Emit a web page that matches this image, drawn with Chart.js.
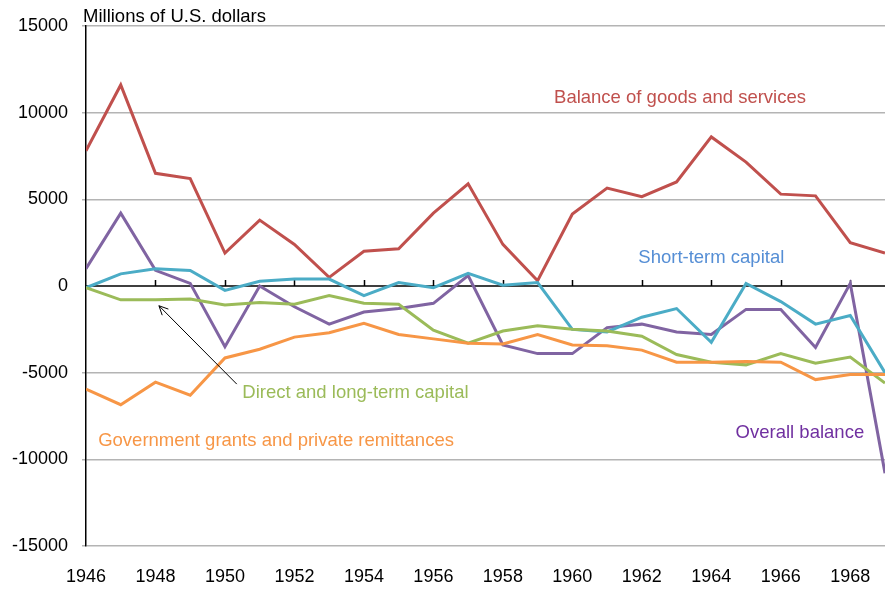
<!DOCTYPE html>
<html>
<head>
<meta charset="utf-8">
<script src="https://cdn.jsdelivr.net/npm/chart.js@4/dist/chart.umd.min.js"></script>
<style>
  html, body { margin: 0; padding: 0; background: #fff; }
  #wrap { width: 886px; height: 592px; position: relative; }
</style>
</head>
<body>
<div id="wrap"><canvas id="chart"></canvas></div>
<script>
const years = [1946, 1947, 1948, 1949, 1950, 1951, 1952, 1953, 1954, 1955, 1956, 1957,
  1958, 1959, 1960, 1961, 1962, 1963, 1964, 1965, 1966, 1967, 1968, 1969]

const goodsServices = [7800, 11600, 6500, 6200, 1900, 3800, 2400, 500, 2000, 2150, 4200, 5900,
  2400, 300, 4150, 5650, 5150, 6000, 8600, 7150, 5300, 5200, 2500, 1900]
const shortTerm = [-100, 700, 1000, 900, -250, 270, 400, 400, -550, 200, -100, 730,
  50, 200, -2500, -2650, -1800, -1300, -3250, 150, -900, -2200, -1700, -5000]
const directLongTerm = [-100, -800, -800, -750, -1100, -950, -1050, -550, -1000, -1050, -2550, -3300,
  -2600, -2300, -2500, -2600, -2900, -3950, -4400, -4550, -3900, -4450, -4100, -5600]
const govGrants = [-5950, -6850, -5550, -6300, -4150, -3650, -2950, -2700, -2150, -2800, -3050, -3300,
  -3350, -2800, -3400, -3450, -3700, -4400, -4400, -4350, -4400, -5400, -5100, -5100]
const overall = [1000, 4200, 900, 150, -3500, 0, -1200, -2200, -1500, -1300, -1000, 600,
  -3400, -3900, -3900, -2400, -2200, -2650, -2800, -1350, -1350, -3550, 150, -10800]

const yTicks = [-15000, -10000, -5000, 0, 5000, 10000, 15000]

// label text, colour, anchor in data units, alignment
const notes = [
  { text: 'Balance of goods and services', color: '#C0504D', x: 1963.1, y: 10850, align: 'center' },
  { text: 'Short-term capital', color: '#558ED5', x: 1964.0, y: 1630, align: 'center' },
  { text: 'Direct and long-term capital', color: '#9BBB59', x: 1950.5, y: -6180, align: 'left' },
  { text: 'Government grants and private remittances', color: '#F79646', x: 1946.35, y: -8930, align: 'left' },
  { text: 'Overall balance', color: '#7030A0', x: 1964.7, y: -8470, align: 'left' }
]
const arrowFrom = [1950.34, -5660]
const arrowTo = [1948.1, -1140]

const FONT = '"Liberation Sans", Arial, sans-serif'
Chart.defaults.font.family = FONT
Chart.defaults.color = '#000'

const mkLine = (label, data, color) => ({
  label,
  data,
  borderColor: color,
  backgroundColor: color,
  borderWidth: 3,
  pointRadius: 0,
  tension: 0,
  fill: false
})

const extras = {
  id: 'extras',
  beforeDatasetsDraw (chart) {
    const { ctx, scales: { x, y } } = chart
    const y0 = y.getPixelForValue(0)
    ctx.save()
    ctx.strokeStyle = '#000'
    ctx.lineWidth = 1.5
    ctx.beginPath()
    ctx.moveTo(x.left, y0)
    ctx.lineTo(x.right, y0)
    for (const t of x.ticks) {
      if (t.value === years[0]) continue
      const px = Math.round(x.getPixelForValue(t.value)) + 0.5
      ctx.moveTo(px, y0)
      ctx.lineTo(px, y0 - 6)
    }
    ctx.stroke()
    ctx.restore()
  },
  afterDatasetsDraw (chart) {
    const { ctx, scales: { x, y } } = chart
    ctx.save()
    ctx.font = '18.5px ' + FONT
    ctx.textBaseline = 'middle'
    for (const n of notes) {
      ctx.fillStyle = n.color
      ctx.textAlign = n.align
      ctx.fillText(n.text, x.getPixelForValue(n.x), y.getPixelForValue(n.y))
    }
    // arrow
    const ax = x.getPixelForValue(arrowFrom[0])
    const ay = y.getPixelForValue(arrowFrom[1])
    const bx = x.getPixelForValue(arrowTo[0])
    const by = y.getPixelForValue(arrowTo[1])
    const ang = Math.atan2(by - ay, bx - ax)
    ctx.strokeStyle = '#000'
    ctx.lineWidth = 1
    ctx.beginPath()
    ctx.moveTo(ax, ay)
    ctx.lineTo(bx, by)
    ctx.moveTo(bx - 10 * Math.cos(ang - 0.45), by - 10 * Math.sin(ang - 0.45))
    ctx.lineTo(bx, by)
    ctx.lineTo(bx - 10 * Math.cos(ang + 0.45), by - 10 * Math.sin(ang + 0.45))
    ctx.stroke()
    // unit title
    ctx.fillStyle = '#000'
    ctx.textAlign = 'left'
    ctx.textBaseline = 'alphabetic'
    ctx.fillText('Millions of U.S. dollars', x.left - 3, y.top - 4)
    ctx.restore()
  }
}

new Chart(document.getElementById('chart'), {
  type: 'line',
  data: {
    labels: years,
    datasets: [
      mkLine('Government grants and private remittances', govGrants, '#F79646'),
      mkLine('Direct and long-term capital', directLongTerm, '#9BBB59'),
      mkLine('Short-term capital', shortTerm, '#4BACC6'),
      mkLine('Overall balance', overall, '#8064A2'),
      mkLine('Balance of goods and services', goodsServices, '#C0504D')
    ]
  },
  options: {
    responsive: true,
    maintainAspectRatio: false,
    animation: false,
    layout: { padding: { top: 26, right: 1, left: 0, bottom: 0 } },
    plugins: {
      legend: { display: false },
      tooltip: { enabled: false }
    },
    scales: {
      x: {
        type: 'linear',
        min: years[0],
        max: years[years.length - 1],
        grid: { display: false },
        border: { display: false },
        ticks: {
          stepSize: 2,
          includeBounds: false,
          autoSkip: false,
          maxRotation: 0,
          padding: 12,
          font: { size: 18 },
          callback: v => String(v)
        },
        afterFit (scale) { scale.height = 46 }
      },
      y: {
        min: yTicks[0],
        max: yTicks[yTicks.length - 1],
        afterBuildTicks (scale) { scale.ticks = yTicks.map(v => ({ value: v })) },
        grid: {
          color: c => (c.tick && c.tick.value === 0 ? 'rgba(0,0,0,0)' : '#B4B4B4'),
          lineWidth: 1.5,
          tickLength: 4
        },
        border: { color: '#000', width: 1.5 },
        ticks: {
          padding: 14,
          font: { size: 18 },
          callback: v => String(v)
        },
        afterFit (scale) { scale.width = 86 }
      }
    }
  },
  plugins: [extras]
})
</script>
</body>
</html>
